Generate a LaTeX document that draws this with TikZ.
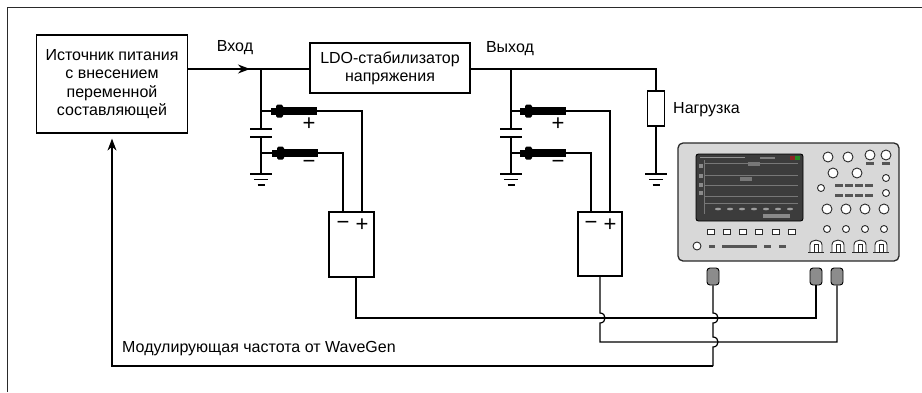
\documentclass[tikz,border=0pt]{standalone}
\usepackage{fontspec}
\setmainfont{Liberation Sans}
\usetikzlibrary{arrows.meta}
\definecolor{panel}{HTML}{D8D8D8}
\definecolor{screen}{HTML}{3C3C3C}
\definecolor{plug}{HTML}{8C8C8C}
\definecolor{dark}{HTML}{2A2A2A}
\begin{document}
\begin{tikzpicture}[x=1pt,y=-1pt,
  wire/.style={line width=1.2pt},
  blk/.style={draw, line width=1.2pt, inner sep=0pt, align=center,
    font=\fontsize{16}{18.3}\selectfont},
  lbl/.style={inner sep=0pt, font=\fontsize{16}{18}\selectfont},
  sgn/.style={inner sep=0pt, font=\fontsize{22}{22}\selectfont},
  plugbox/.style={draw=black, fill=plug, line width=0.9pt, rounded corners=3pt,
    minimum width=12pt, minimum height=17pt, inner sep=0pt},
  knob/.style={draw=dark, fill=white, line width=0.9pt},
  slotmark/.style={fill=dark!80},
  gnd/.pic={
    \draw[wire] (-11,0) -- (11,0);
    \draw[wire] (-7,5.5) -- (7,5.5);
    \draw[wire] (-3.5,11) -- (3.5,11);
  },
  probe/.pic={
    \fill (0,-3.5) rectangle (7,3.5);
    \fill[rounded corners=1.5pt] (5,-6.5) rectangle (12,6.5);
    \fill (11,-4.2) rectangle (46,4.2);
  },
  bnc/.pic={
    \draw[knob] (-6,0) -- (-6,-7) .. controls (-6,-13.5) and (6,-13.5) .. (6,-7) -- (6,0);
    \draw[dark, line width=0.8pt] (-2,0) -- (-2,-8) -- (2,-8) -- (2,0);
    \draw[dark, line width=0.9pt] (-8,0) -- (8,0);
  }
]
\useasboundingbox (0,0) rectangle (922,392);

% outer frame
\draw[line width=1pt, dark] (7,392) -- (7,7) -- (922,7);

% blocks
\node[blk, minimum width=151pt, minimum height=98pt] (ps) at (112,84)
  {Источник питания\\с внесением\\переменной\\составляющей};
\node[blk, minimum width=160pt, minimum height=50pt] (ldo) at (390,68)
  {LDO-стабилизатор\\напряжения};
\node[draw, line width=1.2pt, minimum width=17pt, minimum height=35pt, inner sep=0pt] (load) at (656,108.5) {};
\node[draw, line width=1.2pt, minimum width=45pt, minimum height=65pt, inner sep=0pt] (d1) at (351.5,244.5) {};
\node[draw, line width=1.2pt, minimum width=44pt, minimum height=64pt, inner sep=0pt] (d2) at (600,244) {};

% labels
\node[lbl] (vin) at (235,48) {Вход};
\node[lbl] (vout) at (510,49) {Выход};
\node[lbl, anchor=west] (vload) at (673,110) {Нагрузка};
\node[lbl, anchor=west] (vmod) at (122,349) {Модулирующая частота от WaveGen};

\node[sgn] (s1p) at (309,124) {+};
\node[sgn] (s1m) at (309,164) {−};
\node[sgn] (s2p) at (558,124) {+};
\node[sgn] (s2m) at (558,164) {−};
\node[sgn] (b1m) at (343,225) {−};
\node[sgn] (b1p) at (362,225) {+};
\node[sgn] (b2m) at (591,225) {−};
\node[sgn] (b2p) at (610,225) {+};

% junctions and taps
\coordinate (inJ) at (261,69);
\coordinate (outJ) at (511,69);
\coordinate (loadT) at (656,69);
\coordinate (arrTip) at (250,69);

% input line with arrow
\draw[wire] (ps.east |- inJ) -- (ldo.west |- inJ);
\draw[wire, -{Stealth[length=12pt,width=9pt]}] (ps.east |- inJ) -- (arrTip);

% output line to load
\draw[wire] (ldo.east |- outJ) -- (loadT) -- (load.north);
\draw[wire] (load.south) -- (656,174);
\pic at (656,174) {gnd};

% input capacitor
\draw[wire] (inJ) -- (261,129);
\draw[wire] (261,137) -- (261,174);
\draw[wire] (250,129) -- (272,129);
\draw[wire] (250,137) -- (272,137);
\pic at (261,174) {gnd};

% output capacitor
\draw[wire] (outJ) -- (511,129);
\draw[wire] (511,137) -- (511,174);
\draw[wire] (500,129) -- (522,129);
\draw[wire] (500,137) -- (522,137);
\pic at (511,174) {gnd};

% probes on the input
\draw[wire] (261,111) -- (271,111);
\pic at (271,111) {probe};
\draw[wire] (317,111) -| (d1.north -| b1p);
\draw[wire] (261,153) -- (272,153);
\pic at (272,153) {probe};
\draw[wire] (318,153) -| (d1.north -| b1m);

% probes on the output
\draw[wire] (511,111) -- (520,111);
\pic at (520,111) {probe};
\draw[wire] (566,111) -| (d2.north -| b2p);
\draw[wire] (511,153) -- (520,153);
\pic at (520,153) {probe};
\draw[wire] (566,153) -| (d2.north -| b2m);

% oscilloscope body
\draw[fill=panel, draw=dark, line width=1.3pt, rounded corners=5pt] (678,143) rectangle (899,261);
% screen
\draw[fill=screen, draw=black, line width=0.9pt, rounded corners=2.5pt] (696,154) rectangle (803,221);
\fill[white!45!screen] (700,156.5) rectangle (745,158);
\fill[white!35!screen] (760,157) rectangle (775,158.5);
\fill[red!40!screen] (790,156) rectangle (795,160);
\fill[green!40!screen] (795,156) rectangle (800,160);
\foreach \yy in {163,175,185,196,203}
  \draw[white!30!screen, line width=0.5pt] (704,\yy) -- (798,\yy);
\foreach \yy in {164,174,183,191}
  \fill[white!40!screen] (698.5,\yy) rectangle (702.5,\yy+4);
\draw[white!30!screen, line width=0.5pt] (704,160) -- (704,214);
\fill[white!30!screen] (748,162) rectangle (760,166);
\fill[white!30!screen] (740,177) rectangle (752,181);
\foreach \xx in {718,730,742,754,766,778,790}
  \fill[white!50!screen] (\xx,209) ellipse[x radius=3pt, y radius=1.3pt];
\fill[white!40!screen] (763,214) rectangle (790,218);

% soft keys under the screen
\foreach \xx in {711,727,743,759,776,792}
  \draw[knob, line width=0.8pt] (\xx-3.5,229.5) rectangle (\xx+3.5,234.5);
% bottom row
\draw[knob] (697,246) circle[radius=4pt];
\fill[slotmark] (709,245) rectangle (715,247.5);
\fill[slotmark] (722,245) rectangle (757,247.5);
\fill[slotmark] (764,245) rectangle (771,247.5);
\fill[slotmark] (779,245) rectangle (786,247.5);

% front panel controls
\draw[knob] (828,157) circle[radius=5pt];
\draw[knob] (848,157) circle[radius=5pt];
\draw[knob] (870,155) circle[radius=5pt];
\draw[knob] (886,155) circle[radius=5pt];
\fill[slotmark] (866,162) rectangle (874,164.5);
\fill[slotmark] (882,162) rectangle (890,164.5);
\draw[knob] (833,173) circle[radius=5pt];
\draw[knob] (857,173) circle[radius=5pt];
\draw[knob] (886,178) circle[radius=3.5pt];
\draw[knob] (821,188) circle[radius=3.5pt];
\draw[knob] (886,193) circle[radius=3.5pt];
\foreach \xx in {835,845,855,865} {
  \fill[slotmark] (\xx,184) rectangle (\xx+8,186.5);
  \fill[slotmark] (\xx,194) rectangle (\xx+8,196.5);
}
\foreach \xx in {827,846,865,884} {
  \draw[knob] (\xx,209) circle[radius=5pt];
  \draw[knob] (\xx,229) circle[radius=3.5pt];
}
\foreach \xx in {816,838,860,881}
  \pic at (\xx,252) {bnc};

% scope input plugs
\node[plugbox] (c1) at (713,276.5) {};
\node[plugbox] (c2) at (816,276.5) {};
\node[plugbox] (c3) at (837,276.5) {};

% differential probe outputs to the scope
\coordinate (d1out) at (356,277);
\coordinate (d2out) at (600,276);
\draw[wire] (d1out) -- (356,318) -| (c2.south);
\draw[wire] (d2out) -- (600,313) .. controls +(6.7,0) and +(6.7,0) .. (600,323)
  -- (600,342) -| (c3.south);

% modulation path from the generator output back to the source
\draw[wire] (c1.south) -- (713,313) .. controls +(6.7,0) and +(6.7,0) .. (713,323)
  -- (713,337) .. controls +(6.7,0) and +(6.7,0) .. (713,347) -- (713,366);
\draw[wire, -{Stealth[length=12pt,width=9pt]}, shorten >=5pt] (713,366) -| (ps.south);
\end{tikzpicture}
\end{document}
